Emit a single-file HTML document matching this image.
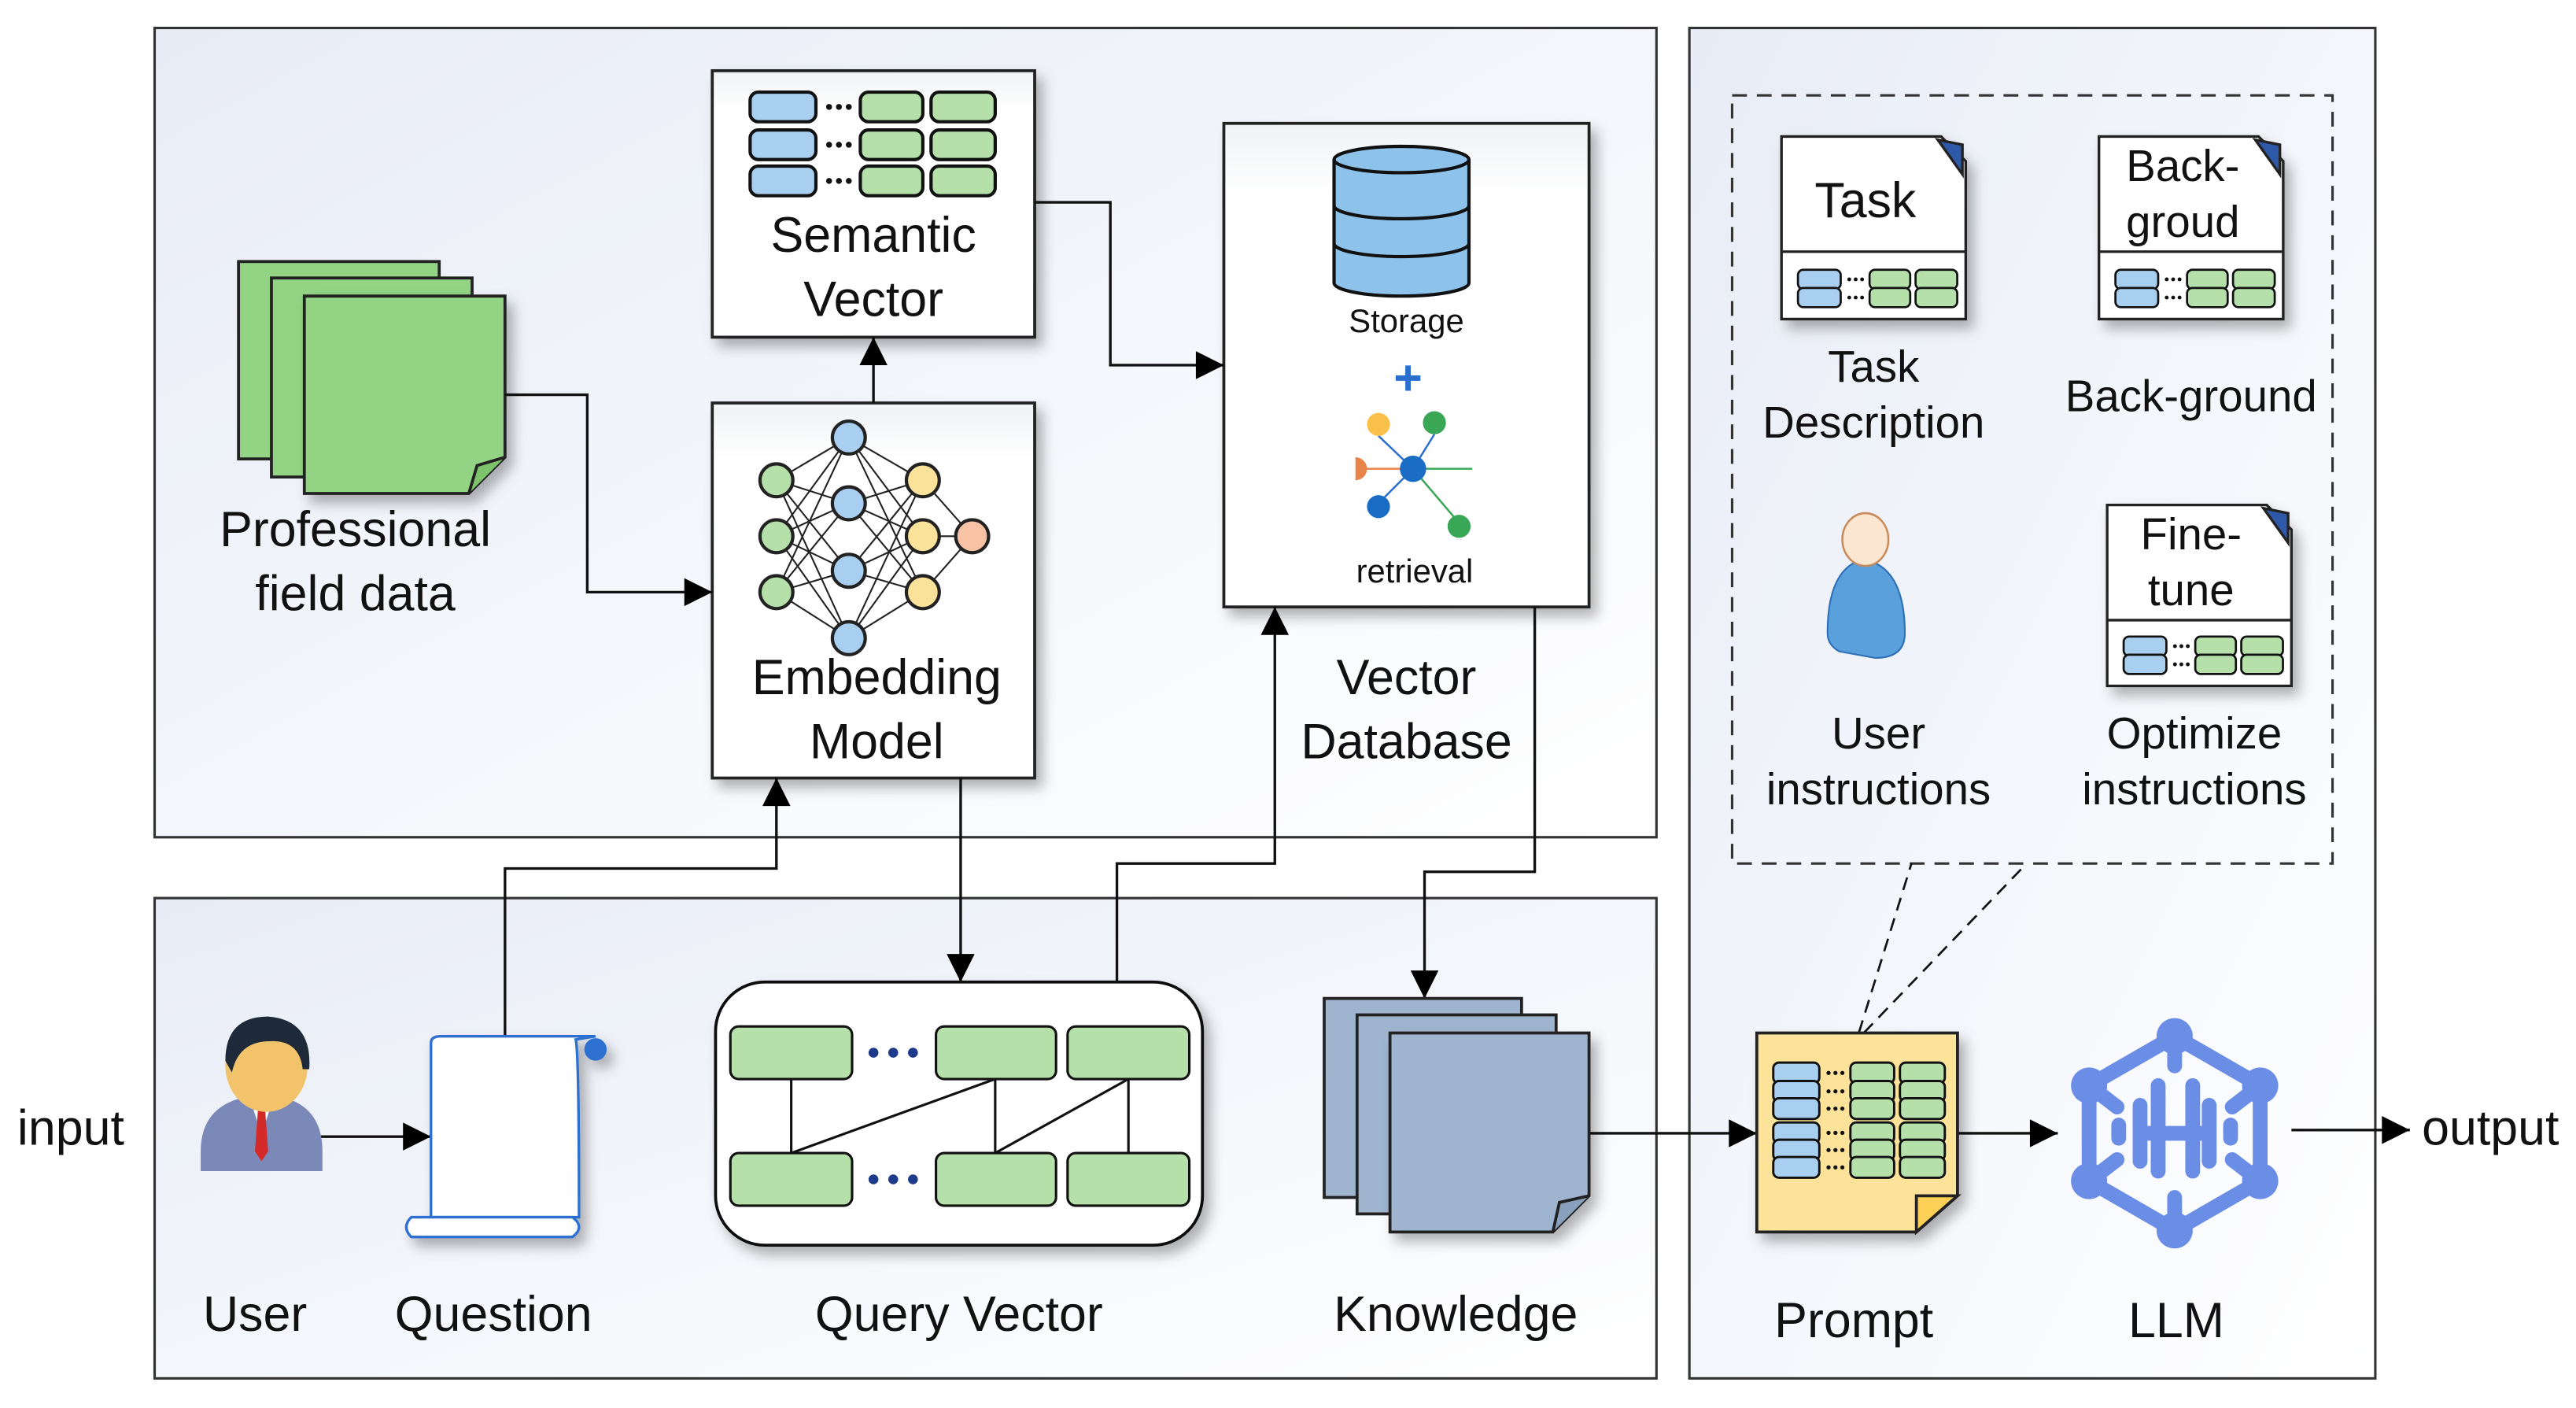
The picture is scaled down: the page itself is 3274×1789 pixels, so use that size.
<!DOCTYPE html>
<html><head><meta charset="utf-8"><style>
html,body{margin:0;padding:0;background:#fff}
svg{display:block}
text{font-family:"Liberation Sans",sans-serif;fill:#111}
</style></head><body>
<svg width="3274" height="1789" viewBox="0 0 1566 856" preserveAspectRatio="none" xmlns="http://www.w3.org/2000/svg">
<defs>
<linearGradient id="pg" x1="0" y1="0" x2="1" y2="1">
<stop offset="0" stop-color="#e8ecf6"/><stop offset="0.6" stop-color="#f6f8fc"/><stop offset="1" stop-color="#ffffff"/></linearGradient>
<linearGradient id="bx" x1="0" y1="0" x2="0" y2="1"><stop offset="0" stop-color="#f0f2f4"/><stop offset="0.15" stop-color="#fff"/><stop offset="1" stop-color="#fff"/></linearGradient>
<marker id="ar" viewBox="0 0 10 10" refX="10" refY="5" markerWidth="18" markerHeight="17" markerUnits="userSpaceOnUse" orient="auto"><path d="M0,0 L10,5 L0,10 z" fill="#000"/></marker>
<filter id="sh" x="-20%" y="-20%" width="150%" height="150%"><feDropShadow dx="4" dy="5" stdDeviation="4" flood-color="#000" flood-opacity="0.3"/></filter>
<g id="row">
<rect x="0" y="0" width="40" height="18" rx="5" fill="#a9cff0" stroke="#111" stroke-width="2"/>
<circle cx="48" cy="9" r="1.8" fill="#111"/><circle cx="54" cy="9" r="1.8" fill="#111"/><circle cx="60" cy="9" r="1.8" fill="#111"/>
<rect x="67" y="0" width="38" height="18" rx="5" fill="#b5e0aa" stroke="#111" stroke-width="2"/>
<rect x="110" y="0" width="39" height="18" rx="5" fill="#b5e0aa" stroke="#111" stroke-width="2"/>
</g>
</defs>

<rect x="94" y="17" width="913" height="492" fill="url(#pg)" stroke="#333" stroke-width="1.5"/>
<rect x="94" y="546" width="913" height="292" fill="url(#pg)" stroke="#333" stroke-width="1.5"/>
<rect x="1027" y="17" width="417" height="821" fill="url(#pg)" stroke="#333" stroke-width="1.5"/>
<rect x="1053" y="58" width="365" height="467" fill="none" stroke="#333" stroke-width="1.5" stroke-dasharray="9,6"/>

<rect x="433" y="43" width="196" height="162" fill="url(#bx)" stroke="#222" stroke-width="1.8" filter="url(#sh)"/>
<use href="#row" x="456" y="56"/><use href="#row" x="456" y="79"/><use href="#row" x="456" y="101"/>
<text x="531" y="153" font-size="30" text-anchor="middle">Semantic</text>
<text x="531" y="192" font-size="30" text-anchor="middle">Vector</text>

<rect x="433" y="245" width="196" height="228" fill="url(#bx)" stroke="#222" stroke-width="1.8" filter="url(#sh)"/>
<g stroke="#222" stroke-width="1">
<path d="M472,292 L516,266 M472,292 L516,306 M472,292 L516,347 M472,292 L516,388 M472,326 L516,266 M472,326 L516,306 M472,326 L516,347 M472,326 L516,388 M472,360 L516,266 M472,360 L516,306 M472,360 L516,347 M472,360 L516,388"/>
<path d="M516,266 L561,292 M516,266 L561,326 M516,266 L561,360 M516,306 L561,292 M516,306 L561,326 M516,306 L561,360 M516,347 L561,292 M516,347 L561,326 M516,347 L561,360 M516,388 L561,292 M516,388 L561,326 M516,388 L561,360 M561,292 L591,326 M561,326 L591,326 M561,360 L591,326"/>
</g>
<g stroke="#222" stroke-width="2">
<circle cx="472" cy="292" r="10" fill="#b5e0aa"/><circle cx="472" cy="326" r="10" fill="#b5e0aa"/><circle cx="472" cy="360" r="10" fill="#b5e0aa"/>
<circle cx="516" cy="266" r="10" fill="#a9cff0"/><circle cx="516" cy="306" r="10" fill="#a9cff0"/><circle cx="516" cy="347" r="10" fill="#a9cff0"/><circle cx="516" cy="388" r="10" fill="#a9cff0"/>
<circle cx="561" cy="292" r="10" fill="#fbe29a"/><circle cx="561" cy="326" r="10" fill="#fbe29a"/><circle cx="561" cy="360" r="10" fill="#fbe29a"/>
<circle cx="591" cy="326" r="10" fill="#f8c2a4"/>
</g>
<text x="533" y="422" font-size="30" text-anchor="middle">Embedding</text>
<text x="533" y="461" font-size="30" text-anchor="middle">Model</text>

<rect x="744" y="75" width="222" height="294" fill="url(#bx)" stroke="#222" stroke-width="1.8" filter="url(#sh)"/>
<path d="M811,97 L811,172 A41,8 0 0 0 893,172 L893,97" fill="#8dc3eb" stroke="#111" stroke-width="2"/>
<ellipse cx="852" cy="97" rx="41" ry="8" fill="#8dc3eb" stroke="#111" stroke-width="2"/>
<path d="M811,125 A41,8 0 0 0 893,125 M811,148 A41,8 0 0 0 893,148" fill="none" stroke="#111" stroke-width="2"/>
<text x="855" y="202" font-size="20" text-anchor="middle">Storage</text>
<text x="856" y="240" font-size="30" text-anchor="middle" font-weight="bold" style="fill:#2a6fd0">+</text>
<g stroke-width="1.2">
<line x1="859" y1="285" x2="838" y2="265" stroke="#2a6fd0"/><line x1="859" y1="285" x2="872" y2="264" stroke="#2a6fd0"/>
<line x1="859" y1="285" x2="825" y2="285" stroke="#e8834a"/><line x1="859" y1="285" x2="838" y2="306" stroke="#2a6fd0"/>
<line x1="859" y1="285" x2="895" y2="285" stroke="#3aa757"/><line x1="859" y1="285" x2="887" y2="318" stroke="#3aa757"/>
</g>
<circle cx="838" cy="258" r="7" fill="#f9c04a"/><circle cx="872" cy="257" r="7" fill="#3aa757"/>
<circle cx="859" cy="285" r="8" fill="#1b6cc4"/><path d="M818,278 A7,7 0 0 1 818,292 Z" fill="#e8834a" transform="translate(6,0)"/>
<circle cx="838" cy="308" r="7" fill="#1b6cc4"/><circle cx="887" cy="320" r="7" fill="#3aa757"/>
<text x="860" y="354" font-size="20" text-anchor="middle">retrieval</text>
<text x="855" y="422" font-size="30" text-anchor="middle">Vector</text>
<text x="855" y="461" font-size="30" text-anchor="middle">Database</text>

<g stroke="#222" stroke-width="1.8">
<rect x="145" y="159" width="122" height="120" fill="#92d384"/>
<rect x="165" y="169" width="122" height="121" fill="#92d384"/>
<path d="M185,180 L307,180 L307,278 L285,300 L185,300 Z" fill="#92d384" filter="url(#sh)"/>
<path d="M285,300 L290,283 L307,278" fill="#7cc36c"/>
</g>
<text x="216" y="332" font-size="30" text-anchor="middle">Professional</text>
<text x="216" y="371" font-size="30" text-anchor="middle">field data</text>

<g fill="none" stroke="#111" stroke-width="1.6">
<polyline points="307,240 357,240 357,360 433,360" marker-end="url(#ar)"/>
<polyline points="629,123 675,123 675,222 744,222" marker-end="url(#ar)"/>
<line x1="531" y1="245" x2="531" y2="205" marker-end="url(#ar)"/>
<polyline points="307,630 307,528 472,528 472,473" marker-end="url(#ar)"/>
<line x1="584" y1="473" x2="584" y2="597" marker-end="url(#ar)"/>
<polyline points="679,597 679,525 775,525 775,369" marker-end="url(#ar)"/>
<polyline points="933,369 933,530 866,530 866,607" marker-end="url(#ar)"/>
<line x1="195" y1="691" x2="262" y2="691" marker-end="url(#ar)"/>
<line x1="966" y1="689" x2="1068" y2="689" marker-end="url(#ar)"/>
<line x1="1190" y1="689" x2="1251" y2="689" marker-end="url(#ar)"/>
<line x1="1393" y1="687" x2="1465" y2="687" marker-end="url(#ar)"/>
<line x1="1130" y1="628" x2="1162" y2="525" stroke-dasharray="8,5" stroke-width="1.3"/>
<line x1="1133" y1="628" x2="1232" y2="525" stroke-dasharray="8,5" stroke-width="1.3"/>
</g>

<g>
<path d="M122,700 Q122,675 145,668 L175,668 Q196,675 196,700 L196,712 L122,712 Z" fill="#7b89b8"/>
<path d="M152,668 L159,690 L166,668 Z" fill="#fff"/>
<path d="M157,672 L161,672 L163,700 L159,706 L155,700 Z" fill="#d42a2a"/>
<ellipse cx="162" cy="648" rx="25" ry="28" fill="#f2c36a"/>
<path d="M137,645 Q137,618 163,618 Q190,620 188,650 L184,650 Q182,632 164,633 Q145,633 141,652 Z" fill="#1e2a3a"/>
</g>
<g stroke="#2f6fcf" stroke-width="1.6" filter="url(#sh)">
<path d="M262,634 Q262,630 268,630 L362,630 L350,632 Q352,640 352,740 L262,740 Z" fill="#fff"/>
<circle cx="362" cy="638" r="6" fill="#2f6fcf"/>
<path d="M250,740 L348,740 Q356,746 348,752 L250,752 Q244,746 250,740 Z" fill="#fff"/>
</g>

<rect x="435" y="597" width="296" height="160" rx="30" fill="#fff" stroke="#111" stroke-width="1.8" filter="url(#sh)"/>
<g stroke="#111" stroke-width="1.5" fill="none">
<line x1="481" y1="656" x2="481" y2="701"/><line x1="605" y1="656" x2="605" y2="701"/><line x1="686" y1="656" x2="686" y2="701"/>
<line x1="481" y1="701" x2="605" y2="656"/><line x1="605" y1="701" x2="686" y2="656"/>
</g>
<g fill="#b5e0aa" stroke="#111" stroke-width="1.5">
<rect x="444" y="624" width="74" height="32" rx="5"/><rect x="569" y="624" width="73" height="32" rx="5"/><rect x="649" y="624" width="74" height="32" rx="5"/>
<rect x="444" y="701" width="74" height="32" rx="5"/><rect x="569" y="701" width="73" height="32" rx="5"/><rect x="649" y="701" width="74" height="32" rx="5"/>
</g>
<g fill="#1e3a8a"><circle cx="531" cy="640" r="3"/><circle cx="543" cy="640" r="3"/><circle cx="555" cy="640" r="3"/><circle cx="531" cy="717" r="3"/><circle cx="543" cy="717" r="3"/><circle cx="555" cy="717" r="3"/></g>

<g stroke="#222" stroke-width="1.8" fill="#9fb5cf">
<rect x="805" y="607" width="120" height="121"/>
<rect x="825" y="617" width="121" height="121"/>
<path d="M845,628 L966,628 L966,727 L944,749 L845,749 Z" filter="url(#sh)"/>
<path d="M944,749 L948,731 L966,727" fill="#8aa1bd"/>
</g>

<g stroke="#222" stroke-width="1.8">
<path d="M1068,628 L1190,628 L1190,727 L1165,749 L1068,749 Z" fill="#fde39a" filter="url(#sh)"/>
<path d="M1165,749 L1165,727 L1190,727 Z" fill="#fccf55"/>
</g>
<g transform="translate(1078,646) scale(0.7)"><use href="#row" y="0"/><use href="#row" y="16"/><use href="#row" y="31"/><use href="#row" y="52"/><use href="#row" y="67"/><use href="#row" y="82"/></g>

<g stroke="#6a8de6" fill="none" stroke-width="9" stroke-linecap="round">
<path d="M1322,630 L1374,660 L1374,718 L1322,748 L1270,718 L1270,660 Z"/>
<line x1="1322" y1="630" x2="1322" y2="648"/><line x1="1322" y1="748" x2="1322" y2="728"/>
<line x1="1274" y1="663" x2="1287" y2="673"/><line x1="1370" y1="663" x2="1357" y2="673"/>
<line x1="1274" y1="715" x2="1287" y2="705"/><line x1="1370" y1="715" x2="1357" y2="705"/>
<line x1="1288" y1="684" x2="1288" y2="692"/><line x1="1356" y1="684" x2="1356" y2="692"/>
<line x1="1301" y1="672" x2="1301" y2="706"/><line x1="1343" y1="672" x2="1343" y2="706"/>
<line x1="1312" y1="660" x2="1312" y2="712"/><line x1="1333" y1="660" x2="1333" y2="712"/>
<line x1="1301" y1="689" x2="1343" y2="689"/>
</g>
<g fill="#6a8de6"><circle cx="1322" cy="630" r="11"/><circle cx="1374" cy="660" r="11"/><circle cx="1374" cy="718" r="11"/><circle cx="1322" cy="748" r="11"/><circle cx="1270" cy="718" r="11"/><circle cx="1270" cy="660" r="11"/></g>

<g stroke="#222" stroke-width="1.6">
<path d="M1083,83 L1180,83 L1195,98 L1195,194 L1083,194 Z" fill="#fff" filter="url(#sh)"/>
<path d="M1178,85 L1193,88 L1193,106 Z" fill="#2e58a8"/>
<line x1="1083" y1="153" x2="1195" y2="153"/>
<path d="M1276,83 L1373,83 L1388,98 L1388,194 L1276,194 Z" fill="#fff" filter="url(#sh)"/>
<path d="M1371,85 L1386,88 L1386,106 Z" fill="#2e58a8"/>
<line x1="1276" y1="153" x2="1388" y2="153"/>
<path d="M1281,307 L1378,307 L1393,322 L1393,417 L1281,417 Z" fill="#fff" filter="url(#sh)"/>
<path d="M1376,309 L1391,312 L1391,330 Z" fill="#2e58a8"/>
<line x1="1281" y1="377" x2="1393" y2="377"/>
</g>
<g transform="translate(1093,164) scale(0.65)"><use href="#row"/><use href="#row" y="17"/></g>
<g transform="translate(1286,164) scale(0.65)"><use href="#row"/><use href="#row" y="17"/></g>
<g transform="translate(1291,387) scale(0.65)"><use href="#row"/><use href="#row" y="17"/></g>
<text x="1134" y="132" font-size="30" text-anchor="middle">Task</text>
<text x="1327" y="110" font-size="27" text-anchor="middle">Back-</text>
<text x="1327" y="144" font-size="27" text-anchor="middle">groud</text>
<text x="1332" y="334" font-size="27" text-anchor="middle">Fine-</text>
<text x="1332" y="368" font-size="27" text-anchor="middle">tune</text>
<g>
<path d="M1111,385 Q1111,345 1133,340 Q1158,345 1158,385 Q1158,400 1140,400 L1118,396 Q1111,392 1111,385 Z" fill="#5aa0dc" stroke="#2e6fb5" stroke-width="1"/>
<ellipse cx="1134" cy="328" rx="14" ry="16" fill="#fbe6d2" stroke="#c98a5a" stroke-width="1.2"/>
</g>
<text x="1139" y="232" font-size="27" text-anchor="middle">Task</text>
<text x="1139" y="266" font-size="27" text-anchor="middle">Description</text>
<text x="1332" y="250" font-size="27" text-anchor="middle">Back-ground</text>
<text x="1142" y="455" font-size="27" text-anchor="middle">User</text>
<text x="1142" y="489" font-size="27" text-anchor="middle">instructions</text>
<text x="1334" y="455" font-size="27" text-anchor="middle">Optimize</text>
<text x="1334" y="489" font-size="27" text-anchor="middle">instructions</text>

<text x="43" y="696" font-size="30" text-anchor="middle">input</text>
<text x="1514" y="696" font-size="30" text-anchor="middle">output</text>
<text x="155" y="809" font-size="30" text-anchor="middle">User</text>
<text x="300" y="809" font-size="30" text-anchor="middle">Question</text>
<text x="583" y="809" font-size="30" text-anchor="middle">Query Vector</text>
<text x="885" y="809" font-size="30" text-anchor="middle">Knowledge</text>
<text x="1127" y="813" font-size="30" text-anchor="middle">Prompt</text>
<text x="1323" y="813" font-size="30" text-anchor="middle">LLM</text>
</svg>
</body></html>
